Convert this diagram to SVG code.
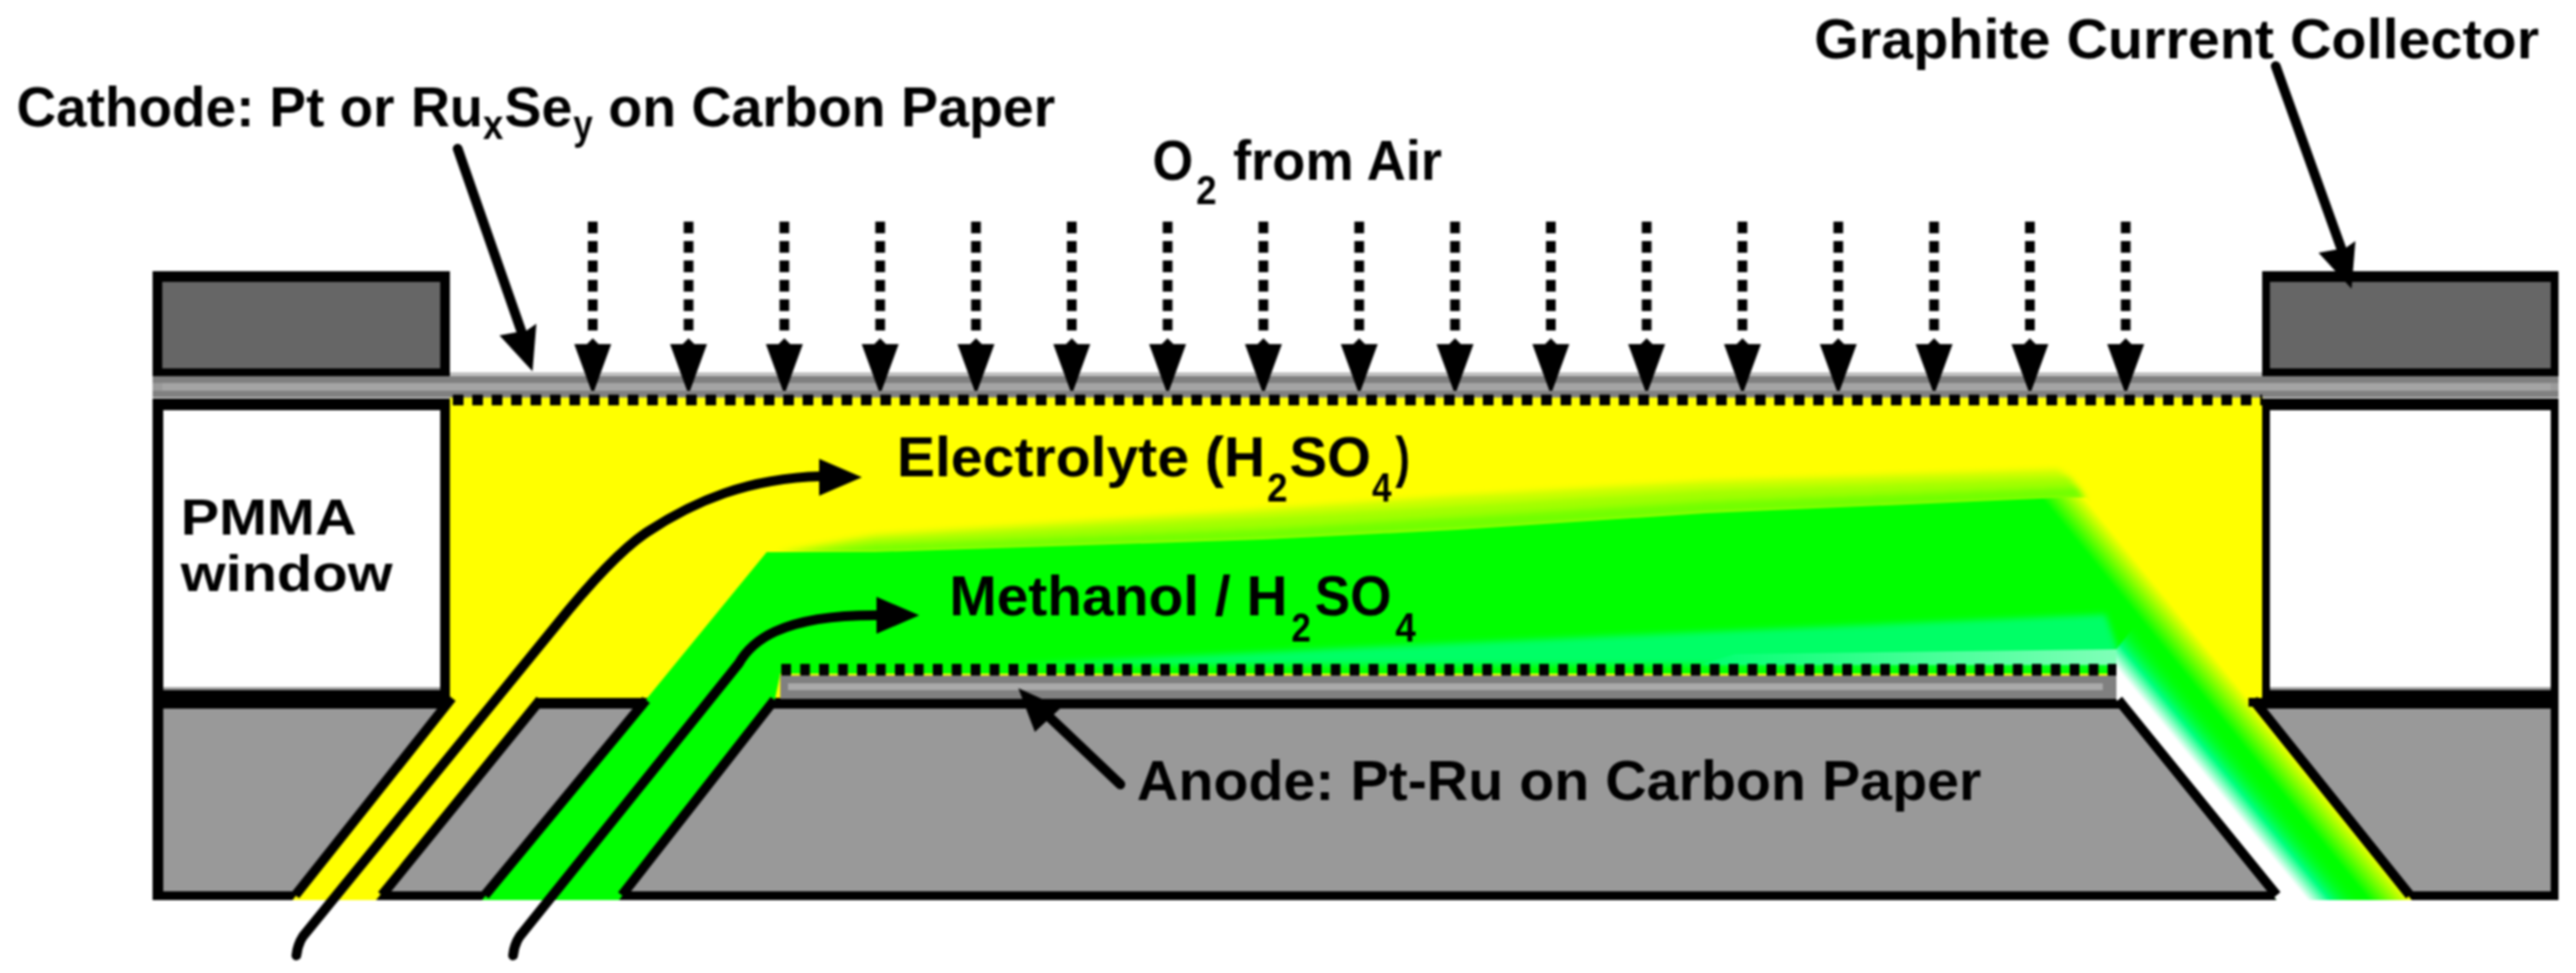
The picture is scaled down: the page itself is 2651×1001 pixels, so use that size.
<svg xmlns="http://www.w3.org/2000/svg" width="2651" height="1001" viewBox="0 0 2651 1001">
<style>
.t{font-family:"Liberation Sans",Arial,sans-serif;font-weight:700;font-size:58px;fill:#000}
.p{font-size:51px}
.s{font-family:"Liberation Sans",Arial,sans-serif;font-weight:700;font-size:42px;fill:#000}
.e{stroke:#000;stroke-width:10;fill:none}
.d{stroke:#000;stroke-width:10;stroke-dasharray:12 8;fill:none}
.c{stroke:#000;stroke-width:10;fill:none;stroke-linecap:round}
.dots{stroke:#000;stroke-width:11;stroke-dasharray:11 9;fill:none}
.k{fill:#000}.g{fill:#999}.gd{fill:#666}.w{fill:#fff}
</style>
<defs>
<filter id="soft" filterUnits="userSpaceOnUse" x="0" y="0" width="2651" height="1001" color-interpolation-filters="sRGB"><feGaussianBlur stdDeviation="0.9"/></filter>
<filter id="soft2" filterUnits="userSpaceOnUse" x="0" y="0" width="2651" height="1001" color-interpolation-filters="sRGB"><feGaussianBlur stdDeviation="3"/></filter>
<path id="head" d="M-19 -48H-6L0 -54L6 -48H19L1.500 0H-1.500Z"/>
<path id="slant" d="M0 0L4 -49L-6 -42L-34 -37Z"/>
<path id="tri" d="M0 -19L44 0L0 19Z"/>
<linearGradient id="rg" gradientUnits="userSpaceOnUse" x1="2367" y1="839" x2="2394" y2="817">
<stop offset="0" stop-color="#0f0"/><stop offset="1" stop-color="#ff0"/>
</linearGradient>
<linearGradient id="wg" gradientUnits="userSpaceOnUse" x1="2285" y1="817" x2="2319" y2="789">
<stop offset="0" stop-color="#fff"/><stop offset=".4" stop-color="#00ff80"/><stop offset="1" stop-color="#0f0" stop-opacity="0"/>
</linearGradient>
<linearGradient id="lg" gradientUnits="userSpaceOnUse" x1="1750" y1="0" x2="2179" y2="0">
<stop offset="0" stop-color="#00ff70"/><stop offset="1" stop-color="#80ffb8"/>
</linearGradient>
</defs>
<rect width="2651" height="1001" fill="#fff"/>
<g filter="url(#soft)">
<g id="electrolyte"><rect x="463" y="409" width="1866" height="311" fill="#ff0"/></g>
<g id="bottom-block">
<rect class="k" x="157" y="718" width="2476" height="208"/>
<rect class="g" x="168" y="729" width="2457" height="188"/>
</g>
<g id="yellow-channel"><polygon points="463,716 556,716 387,926 301,926" fill="#ff0"/><path class="e" d="M465 718L304 921M556 720L393 921"/></g>
<g id="membrane">
<rect x="157" y="383" width="2476" height="26" fill="#808080"/>
<rect x="463" y="383" width="1865" height="4" fill="#c0c0c0"/>
<rect x="157" y="394" width="2476" height="8" fill="#9a9a9a"/>
<rect x="167" y="394" width="2458" height="8" fill="#a4a4a4"/>
</g>
<g id="cathode-layer"><path class="dots" d="M466 411.500H2328"/></g>
<g id="methanol">
<g filter="url(#soft2)">
<polygon points="800,568 900,550 1300,524 1500,510 1755,495 2118,483 2130,491 1755,504 1500,520 1300,532 900,556" fill="#c8ff00"/>
<polygon points="800,568 900,555 1300,532 1500,520 1755,504 2130,491 2138,501 1755,516 1500,532 1300,544 900,561" fill="#a0ff00"/>
<polygon points="800,570 900,561 1300,544 1500,532 1755,516 2138,501 2147,514 1755,530 1500,547 1300,557 900,570" fill="#70ff00"/>
</g>
<polygon points="789,568 900,568 1300,555 1500,545 1755,528 2121,512 2147,512 2482,926 2343,926 2178,718 2178,693 803,693 797,722 637,926 496,926" fill="url(#rg)"/>
<polygon points="1040,684 1380,667 1755,650 2167,632 2185,684" fill="#00ff66" filter="url(#soft2)"/>
<polygon points="1750,684 1785,673 2179,668 2179,684" fill="url(#lg)"/>
<polygon points="2178,693 2178,720 2343,926 2440,926 2200,640 2178,668" fill="url(#wg)"/>
<path class="e" d="M665 720L499 921M797 720L640 921M2180 720L2343 921M2319 720L2480 921"/>
<polygon class="k" points="553,718 665,718 663,729 553,729"/>
<rect class="k" x="2314" y="718" width="20" height="9"/>
</g>
<g id="anode-layer">
<rect x="803" y="695" width="1375" height="24" fill="#808080"/>
<rect x="811" y="703" width="1353" height="7" fill="#aaa"/>
<path class="dots" d="M804 689H2178" style="stroke-width:12;stroke-dasharray:10 9.500"/>
</g>
<g id="collector-left"><rect class="k" x="157" y="279" width="306" height="108"/><rect class="gd" x="167" y="290" width="286" height="89"/></g>
<g id="collector-right"><rect class="k" x="2328" y="279" width="305" height="108"/><rect class="gd" x="2336" y="290" width="289" height="89"/></g>
<g id="window-left"><rect class="k" x="157" y="410" width="306" height="317"/><rect class="w" x="168" y="422" width="285" height="285"/><rect x="168" y="707" width="285" height="3" fill="#999"/><text class="t p" x="186" y="550" textLength="181" lengthAdjust="spacingAndGlyphs">PMMA</text><text class="t p" x="186" y="608" textLength="218" lengthAdjust="spacingAndGlyphs">window</text></g>
<g id="window-right"><rect class="k" x="2328" y="410" width="305" height="317"/><rect class="w" x="2336" y="422" width="289" height="285"/><rect x="2336" y="707" width="289" height="3" fill="#999"/></g>
<g id="connectors">
<path class="c" d="M305 983Q306 972 312 963L571 645C611 595 640 565 665 548C715 515 770 492 845 490"/><use class="k" href="#tri" x="843" y="491"/>
<path class="c" d="M528 983Q529 972 535 963L760 683C772 662 800 632 905 633"/><use class="k" href="#tri" x="902" y="633"/>
<path class="c" d="M471 153L538 345"/><use href="#slant" x="548" y="382"/>
<path class="c" d="M2342 68L2411 260"/><use href="#slant" x="2420" y="297"/>
<path class="c" d="M1153 807L1075 733"/><polygon points="1048,708 1092,728 1065,753"/>
<g id="air-arrows">
<path class="d" d="M610 228V340M708.600 228V340M807.200 228V340M905.800 228V340M1004.400 228V340M1103 228V340M1201.600 228V340M1300.200 228V340M1398.800 228V340M1497.400 228V340M1596 228V340M1694.600 228V340M1793.200 228V340M1891.800 228V340M1990.400 228V340M2089 228V340M2187.600 228V340"/>
<use href="#head" x="610" y="402"/><use href="#head" x="708.600" y="402"/><use href="#head" x="807.200" y="402"/><use href="#head" x="905.800" y="402"/><use href="#head" x="1004.400" y="402"/><use href="#head" x="1103" y="402"/><use href="#head" x="1201.600" y="402"/><use href="#head" x="1300.200" y="402"/><use href="#head" x="1398.800" y="402"/><use href="#head" x="1497.400" y="402"/><use href="#head" x="1596" y="402"/><use href="#head" x="1694.600" y="402"/><use href="#head" x="1793.200" y="402"/><use href="#head" x="1891.800" y="402"/><use href="#head" x="1990.400" y="402"/><use href="#head" x="2089" y="402"/><use href="#head" x="2187.600" y="402"/>
</g>
</g>
<g id="labels">
<text class="t" x="17" y="130" textLength="389" lengthAdjust="spacingAndGlyphs">Cathode: Pt or</text>
<text class="t" x="423" y="130" textLength="74" lengthAdjust="spacingAndGlyphs">Ru</text><text class="s" x="497" y="143" textLength="21" lengthAdjust="spacingAndGlyphs">x</text>
<text class="t" x="519" y="130" textLength="70" lengthAdjust="spacingAndGlyphs">Se</text><text class="s" x="590" y="143" textLength="20" lengthAdjust="spacingAndGlyphs">y</text>
<text class="t" x="626" y="130" textLength="460" lengthAdjust="spacingAndGlyphs">on Carbon Paper</text>
<text class="t" x="1867" y="60" textLength="746" lengthAdjust="spacingAndGlyphs">Graphite Current Collector</text>
<text class="t" x="1186" y="185" textLength="42" lengthAdjust="spacingAndGlyphs">O</text><text class="s" x="1231" y="210" textLength="21" lengthAdjust="spacingAndGlyphs">2</text>
<text class="t" x="1269" y="185" textLength="215" lengthAdjust="spacingAndGlyphs">from Air</text>
<text class="t" x="923" y="490" textLength="379" lengthAdjust="spacingAndGlyphs">Electrolyte (H</text><text class="s" x="1304" y="516" textLength="21" lengthAdjust="spacingAndGlyphs">2</text>
<text class="t" x="1327" y="490" textLength="84" lengthAdjust="spacingAndGlyphs">SO</text><text class="s" x="1412" y="516" textLength="20" lengthAdjust="spacingAndGlyphs">4</text><text class="t" x="1436" y="490" textLength="15" lengthAdjust="spacingAndGlyphs">)</text>
<text class="t" x="977" y="633" textLength="348" lengthAdjust="spacingAndGlyphs">Methanol / H</text><text class="s" x="1329" y="660" textLength="20" lengthAdjust="spacingAndGlyphs">2</text>
<text class="t" x="1353" y="633" textLength="79" lengthAdjust="spacingAndGlyphs">SO</text><text class="s" x="1436" y="660" textLength="21" lengthAdjust="spacingAndGlyphs">4</text>
<text class="t" x="1170" y="823" textLength="869" lengthAdjust="spacingAndGlyphs">Anode: Pt-Ru on Carbon Paper</text>
</g>
</g>
</svg>
